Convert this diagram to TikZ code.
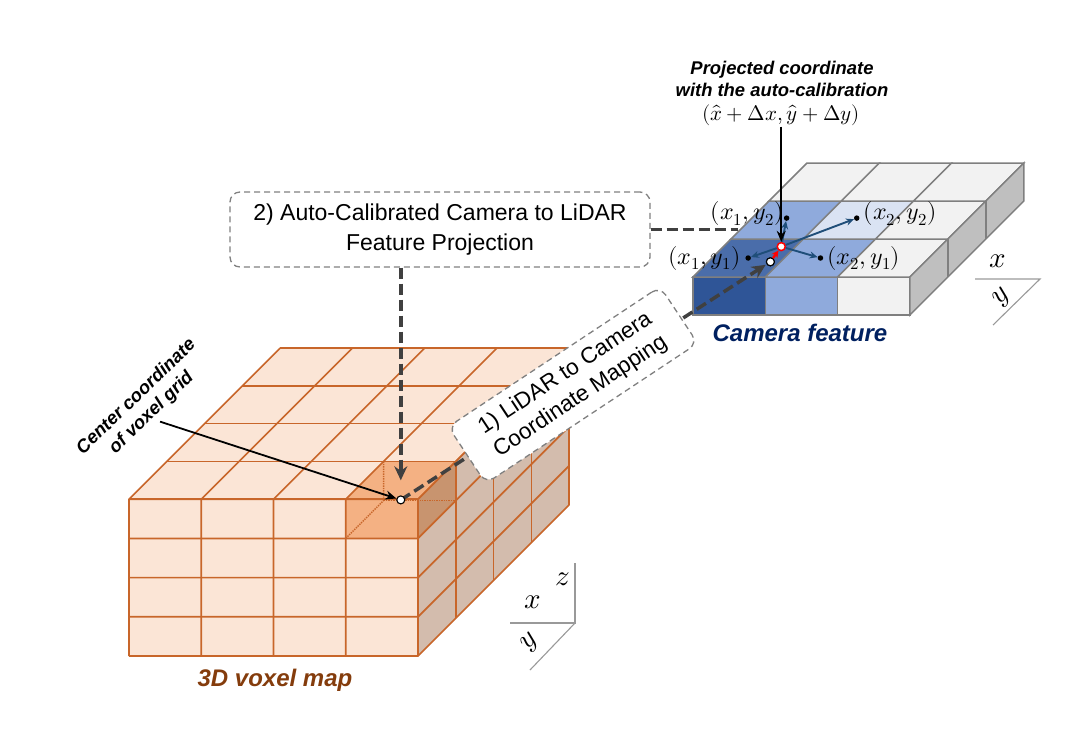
\documentclass[tikz,border=0pt]{standalone}
\usepackage{fontspec}
\usepackage{unicode-math}
\setmainfont{Liberation Sans}
\setmathfont{Latin Modern Math}
\usetikzlibrary{arrows.meta}

\definecolor{voxline}{HTML}{C8662A}
\definecolor{voxfill}{HTML}{FBE5D6}
\definecolor{voxside}{HTML}{D3BCAD}
\definecolor{voxhot}{HTML}{F4B183}
\definecolor{voxhotside}{HTML}{C8946F}
\definecolor{camdark}{HTML}{2F5597}
\definecolor{camtop}{HTML}{4A6DAA}
\definecolor{cammid}{HTML}{8FAADC}
\definecolor{camlight}{HTML}{DAE3F3}
\definecolor{camwhite}{HTML}{F2F2F2}
\definecolor{camside}{HTML}{BFBFBF}
\definecolor{camrule}{HTML}{7F7F7F}
\definecolor{flow}{HTML}{404040}
\definecolor{offset}{HTML}{1F4E79}
\definecolor{voxtitle}{HTML}{843C0C}
\definecolor{camtitle}{HTML}{002060}

\begin{document}
\begin{tikzpicture}[x=1pt,y=-1pt,
  voxgrid/.style={draw=voxline, line width=1.7pt},
  camgrid/.style={draw=camrule, line width=1.5pt},
  stepbox/.style={draw=gray, dash pattern=on 6pt off 4pt, line width=1.3pt,
    rounded corners=10pt, fill=white, align=center,
    font=\fontsize{23}{30}\selectfont},
  flowline/.style={draw=flow, line width=3.5pt, dash pattern=on 11pt off 5pt},
  flowarrow/.style={flowline, -{Stealth[length=14pt,width=13pt]}},
  pointer/.style={draw=black, line width=1.8pt, -{Stealth[length=11pt,width=9pt]}},
  bluearr/.style={draw=offset, line width=1.9pt, -{Stealth[length=8pt,width=7pt]}},
  redarr/.style={draw=red, line width=2.4pt, -{Stealth[length=7pt,width=7pt]}},
  dot/.style={circle, fill=black, inner sep=0pt, minimum size=5.5pt},
  hole/.style={circle, draw=black, fill=white, line width=1.1pt, inner sep=0pt, minimum size=8pt},
  mathlbl/.style={font=\fontsize{24}{28}\selectfont, inner sep=1pt},
  axis/.style={draw=gray!80, line width=1.1pt},
  axlbl/.style={font=\fontsize{29}{30}\selectfont, inner sep=0pt},
  title/.style={font=\fontsize{24}{28}\selectfont\bfseries\itshape},
  note/.style={font=\fontsize{18.4}{22}\selectfont\bfseries\itshape, align=center}]
\useasboundingbox (0,0) rectangle (1081,740);

% 3D voxel map
\begin{scope}[shift={(129,656)}, x={(72.25pt,0pt)}, y={(37.8pt,37.8pt)}, z={(0pt,39.2pt)}]
  \fill[voxfill] (0,0,0) rectangle (4,0,4);
  \fill[voxfill] (0,0,4) -- (4,0,4) -- (4,4,4) -- (0,4,4) -- cycle;
  \fill[voxside] (4,0,0) -- (4,4,0) -- (4,4,4) -- (4,0,4) -- cycle;
  % highlighted voxel
  \fill[voxhot] (3,0,3) rectangle (4,0,4);
  \fill[voxhot] (3,0,4) -- (4,0,4) -- (4,1,4) -- (3,1,4) -- cycle;
  \fill[voxhotside] (4,0,3) -- (4,1,3) -- (4,1,4) -- (4,0,4) -- cycle;
  \foreach \i in {0,...,4} {
    \draw[voxgrid] (\i,0,0) -- (\i,0,4) -- (\i,4,4);
    \draw[voxgrid] (0,0,\i) -- (4,0,\i) -- (4,4,\i);
    \draw[voxgrid] (0,\i,4) -- (4,\i,4) -- (4,\i,0);
  }
  \draw[voxline, line width=1.4pt, densely dotted] (3,1,4) -- (3,1,3) -- (3,0,3);
  \draw[voxline, line width=1.4pt, densely dotted] (3,1,3) -- (4,1,3);
  \coordinate (vtop) at (3.5,0.5,4);
  \coordinate (vcen) at (3.5,0.5,3.5);
\end{scope}

% camera feature
\begin{scope}[shift={(693,315)}, x={(72.3pt,0pt)}, y={(38pt,38pt)}, z={(0pt,38pt)}]
  \foreach \i/\c in {0/camdark, 1/cammid, 2/camwhite}
    \filldraw[camgrid, fill=\c] (\i,0,0) rectangle (\i+1,0,1);
  \foreach \i/\j/\c in {0/0/camtop, 1/0/cammid, 2/0/camwhite,
                        0/1/cammid, 1/1/camlight, 2/1/camwhite,
                        0/2/camwhite, 1/2/camwhite, 2/2/camwhite}
    \filldraw[camgrid, fill=\c] (\i,\j,1) -- ++(1,0,0) -- ++(0,1,0) -- ++(-1,0,0) -- cycle;
  \filldraw[camgrid, fill=camside] (3,0,0) -- (3,3,0) -- (3,3,1) -- (3,0,1) -- cycle;
  \foreach \j in {1,2}
    \draw[camgrid] (3,\j,0) -- (3,\j,1);
  \coordinate (camrim) at (0,1.18,1);
  \node[dot] (p11) at (0.5,0.5,1) {};
  \node[dot] (p21) at (1.5,0.5,1) {};
  \node[dot] (p12) at (0.48,1.55,1) {};
  \node[dot] (p22) at (1.45,1.55,1) {};
  \coordinate (projpt) at (0.8,0.8,1);
  \coordinate (initpt) at (0.86,0.4,1);
\end{scope}

% projection steps
\node[stepbox, minimum width=420pt, minimum height=75pt] (calib) at (440,229.5)
  {2) Auto-Calibrated Camera to LiDAR\\Feature Projection};
\draw[flowline] (calib.east) -- (calib.east -| camrim);
\draw[flowarrow] (calib.south -| vtop) -- (vtop);
\node[hole] (init) at (initpt) {};
\draw[flowarrow, shorten >=1pt] (vcen) -- (init);
\node[stepbox, rotate=33.5, minimum width=254pt, minimum height=68pt,
  font=\fontsize{22.5}{27.5}\selectfont] (mapping) at (573,385)
  {1) LiDAR to Camera\\Coordinate Mapping};
\node[hole] (vc) at (vcen) {};
\node[hole] (init) at (initpt) {};

% voxel labels
\node[note, rotate=44] (cclbl) at (144,405) {Center coordinate\\of voxel grid};
\draw[pointer] (cclbl.south) -- (vc);
\node[title, text=voxtitle] (voxname) at (275,680) {3D voxel map};

% camera labels
\node[hole, draw=red, line width=1.5pt] (proj) at (projpt) {};
\draw[redarr] (init) -- (proj);
\foreach \p in {p11, p21, p12, p22}
  \draw[bluearr] (proj) -- (\p);
\node[mathlbl, anchor=east] (l11) at ([xshift=-3pt]p11.west) {$(x_1, y_1)$};
\node[mathlbl, anchor=west] (l21) at ([xshift=3pt]p21.east) {$(x_2, y_1)$};
\node[mathlbl, anchor=east] (l12) at ([xshift=1pt, yshift=5pt]p12.west) {$(x_1, y_2)$};
\node[mathlbl, anchor=west] (l22) at ([xshift=3pt, yshift=5pt]p22.east) {$(x_2, y_2)$};
\node[note] (projlbl) at (782,79) {Projected coordinate\\with the auto-calibration};
\node[mathlbl, font=\fontsize{21}{24}\selectfont] (projxy) at (781,115)
  {$(\hat{x}+\Delta x, \hat{y}+\Delta y)$};
\draw[pointer] (projxy.south -| proj) -- (proj.north);
\node[title, text=camtitle] (camname) at (800,333) {Camera feature};

% axes
\coordinate (vax) at (575,623);
\draw[axis] (510,623) -- (vax) -- (575,563);
\draw[axis] (vax) -- (530,670);
\node[axlbl] (vx) at (533,602) {$x$};
\node[axlbl] (vz) at (563,579) {$z$};
\node[axlbl, rotate=45] (vy) at (530,643) {$y$};
\coordinate (cax) at (1040,279);
\draw[axis] (975,279) -- (cax) -- (993,325);
\node[axlbl] (cx) at (998,261) {$x$};
\node[axlbl, rotate=45] (cy) at (1002,298) {$y$};
\end{tikzpicture}
\end{document}
